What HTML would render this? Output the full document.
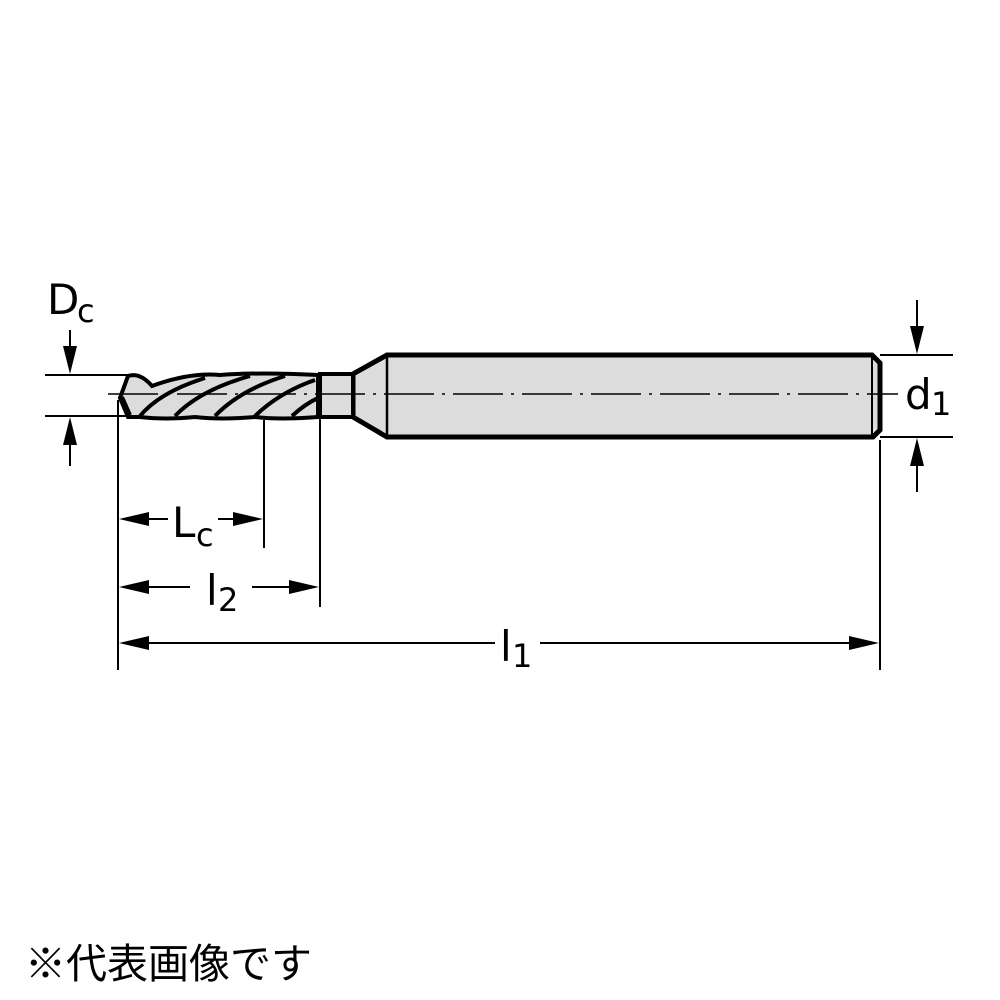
<!DOCTYPE html>
<html><head><meta charset="utf-8"><style>
html,body{margin:0;padding:0;background:#fff;}
svg{display:block}
text{font-family:"DejaVu Sans","Liberation Sans",sans-serif;fill:#000}
</style></head><body>
<svg width="1000" height="1000" viewBox="0 0 1000 1000" xmlns="http://www.w3.org/2000/svg">
<g stroke="#000" fill="none">
<path d="M387,355 H872 L880,363 V430 L873,437 H387 L353,417 V374 Z" fill="#dcdcdc" stroke-width="5"/>
<line x1="387" y1="356" x2="387" y2="436" stroke-width="2.5"/>
<line x1="872" y1="357" x2="872" y2="435" stroke-width="2"/>
<rect x="320" y="374" width="33" height="43" fill="#dcdcdc" stroke-width="4"/>
<path d="M128,376 Q140,372 152,386 Q190,372 220,375 Q260,372 318,375 L318,417 Q280,420 255,417 Q220,420 195,417 Q165,420 140,417 L128,417 L120,398 Z" fill="#dcdcdc" stroke-width="4"/>
<g stroke-width="4">
<path d="M140,416 Q160,392 205,378"/>
<path d="M175,416 Q200,390 250,376"/>
<path d="M215,416 Q240,390 285,376"/>
<path d="M255,416 Q280,392 315,380"/>
<path d="M292,416 Q305,404 318,398"/>
<path d="M122,397 L130,415"/>
</g>
<line x1="108" y1="394" x2="898" y2="394" stroke-width="1.5" stroke-dasharray="50,8,3,8"/>
<g stroke-width="2">
<line x1="45" y1="375" x2="128" y2="375"/>
<line x1="45" y1="416" x2="130" y2="416"/>
<line x1="70" y1="330" x2="70" y2="350"/>
<line x1="70" y1="440" x2="70" y2="466"/>
<line x1="880" y1="355" x2="953" y2="355"/>
<line x1="880" y1="437" x2="953" y2="437"/>
<line x1="917" y1="300" x2="917" y2="330"/>
<line x1="917" y1="460" x2="917" y2="492"/>
<line x1="118" y1="400" x2="118" y2="670"/>
<line x1="264" y1="420" x2="264" y2="548"/>
<line x1="320" y1="418" x2="320" y2="607"/>
<line x1="880" y1="440" x2="880" y2="670"/>
<line x1="168" y1="519" x2="140" y2="519"/>
<line x1="218" y1="519" x2="240" y2="519"/>
<line x1="190" y1="587" x2="140" y2="587"/>
<line x1="252" y1="587" x2="300" y2="587"/>
<line x1="495" y1="643" x2="140" y2="643"/>
<line x1="540" y1="643" x2="858" y2="643"/>
</g>
</g>
<g fill="#000">
<polygon points="70,374 63,346 77,346"/>
<polygon points="70,417 63,445 77,445"/>
<polygon points="917,354 910,326 924,326"/>
<polygon points="917,438 910,466 924,466"/>
<polygon points="119,519 149,512 149,526"/>
<polygon points="263,519 233,512 233,526"/>
<polygon points="119,587 149,580 149,594"/>
<polygon points="319,587 289,580 289,594"/>
<polygon points="119,643 149,636 149,650"/>
<polygon points="879,643 849,636 849,650"/>
</g>
<text x="47" y="314" font-size="42">D</text><text x="77" y="322" font-size="32">c</text>
<text x="905" y="409" font-size="42">d</text><text x="931" y="415" font-size="32">1</text>
<text x="172" y="537" font-size="42">L</text><text x="196" y="546" font-size="32">c</text>
<text x="206" y="605" font-size="42">l</text><text x="218" y="611" font-size="32">2</text>
<text x="500" y="661" font-size="42">l</text><text x="512" y="667" font-size="32">1</text>
<text x="25" y="978" font-size="41" style="font-family:'Liberation Sans','Noto Sans CJK JP',sans-serif">※代表画像です</text>
</svg>
</body></html>
